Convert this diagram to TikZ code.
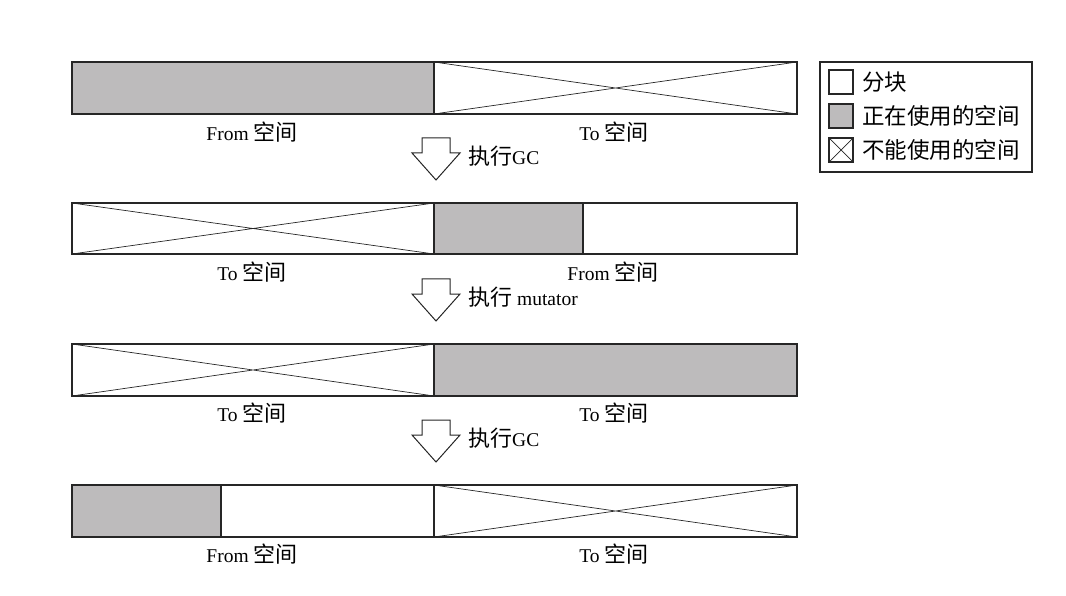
\documentclass[tikz,border=0pt]{standalone}
\usepackage{fontspec}
\setmainfont{Liberation Serif}
\newfontfamily\cjk{Noto Sans CJK SC}
\newcommand\cjtxt[1]{{\fontsize{22}{26}\selectfont\cjk #1}}
\definecolor{usedgray}{RGB}{189,187,188}
\begin{document}
\begin{tikzpicture}[x=1pt,y=-1pt,
  barline/.style={draw=black!85,line width=1.6pt},
  usedfill/.style={fill=usedgray},
  crossline/.style={draw=black!85,line width=0.7pt},
  lbl/.style={font=\fontsize{19.5}{22}\selectfont,inner sep=0pt,anchor=center},
  dnarrow/.style={draw=black!85,line width=1pt,fill=white},
  legtxt/.style={font=\fontsize{22.5}{26}\selectfont\cjk,inner sep=0pt,anchor=west}]
\useasboundingbox (0,0) rectangle (1066,596);
% row 1
\fill[usedfill] (72,62) rectangle (434,114);
\draw[crossline] (434,62) -- (797,114) (434,114) -- (797,62);
\draw[barline] (72,62) rectangle (797,114) (434,62) -- (434,114);
\node[lbl] (l1a) at (252,132) {From \cjtxt{空间}};
\node[lbl] (l1b) at (614,132) {To \cjtxt{空间}};
% arrow 1
\draw[dnarrow] (422,138) -- (450,138) -- (450,153) -- (460,153) -- (436,180) -- (412,153) -- (422,153) -- cycle;
\node[lbl,anchor=west] (a1) at (468,156) {\cjtxt{执行}GC};
% row 2
\fill[usedfill] (434,203) rectangle (583,254);
\draw[crossline] (72,203) -- (434,254) (72,254) -- (434,203);
\draw[barline] (72,203) rectangle (797,254) (434,203) -- (434,254) (583,203) -- (583,254);
\node[lbl] (l2a) at (252,272) {To \cjtxt{空间}};
\node[lbl] (l2b) at (613,272) {From \cjtxt{空间}};
% arrow 2
\draw[dnarrow] (422,279) -- (450,279) -- (450,294) -- (460,294) -- (436,321) -- (412,294) -- (422,294) -- cycle;
\node[lbl,anchor=west] (a2) at (468,297) {\cjtxt{执行} mutator};
% row 3
\fill[usedfill] (434,344) rectangle (797,396);
\draw[crossline] (72,344) -- (434,396) (72,396) -- (434,344);
\draw[barline] (72,344) rectangle (797,396) (434,344) -- (434,396);
\node[lbl] (l3a) at (252,413) {To \cjtxt{空间}};
\node[lbl] (l3b) at (614,413) {To \cjtxt{空间}};
% arrow 3
\draw[dnarrow] (422,420) -- (450,420) -- (450,435) -- (460,435) -- (436,462) -- (412,435) -- (422,435) -- cycle;
\node[lbl,anchor=west] (a3) at (468,438) {\cjtxt{执行}GC};
% row 4
\fill[usedfill] (72,485) rectangle (221,537);
\draw[crossline] (434,485) -- (797,537) (434,537) -- (797,485);
\draw[barline] (72,485) rectangle (797,537) (434,485) -- (434,537) (221,485) -- (221,537);
\node[lbl] (l4a) at (252,554) {From \cjtxt{空间}};
\node[lbl] (l4b) at (614,554) {To \cjtxt{空间}};
% legend
\draw[barline,line width=1.4pt] (820,62) rectangle (1032,172);
\draw[barline,line width=1.4pt] (829,70) rectangle (853,94);
\draw[barline,line width=1.4pt,usedfill] (829,104) rectangle (853,128);
\draw[crossline] (829,138) -- (853,162) (829,162) -- (853,138);
\draw[barline,line width=1.4pt] (829,138) rectangle (853,162);
\node[legtxt] (g1) at (862,82) {分块};
\node[legtxt] (g2) at (862,116) {正在使用的空间};
\node[legtxt] (g3) at (862,150) {不能使用的空间};
\end{tikzpicture}
\end{document}
